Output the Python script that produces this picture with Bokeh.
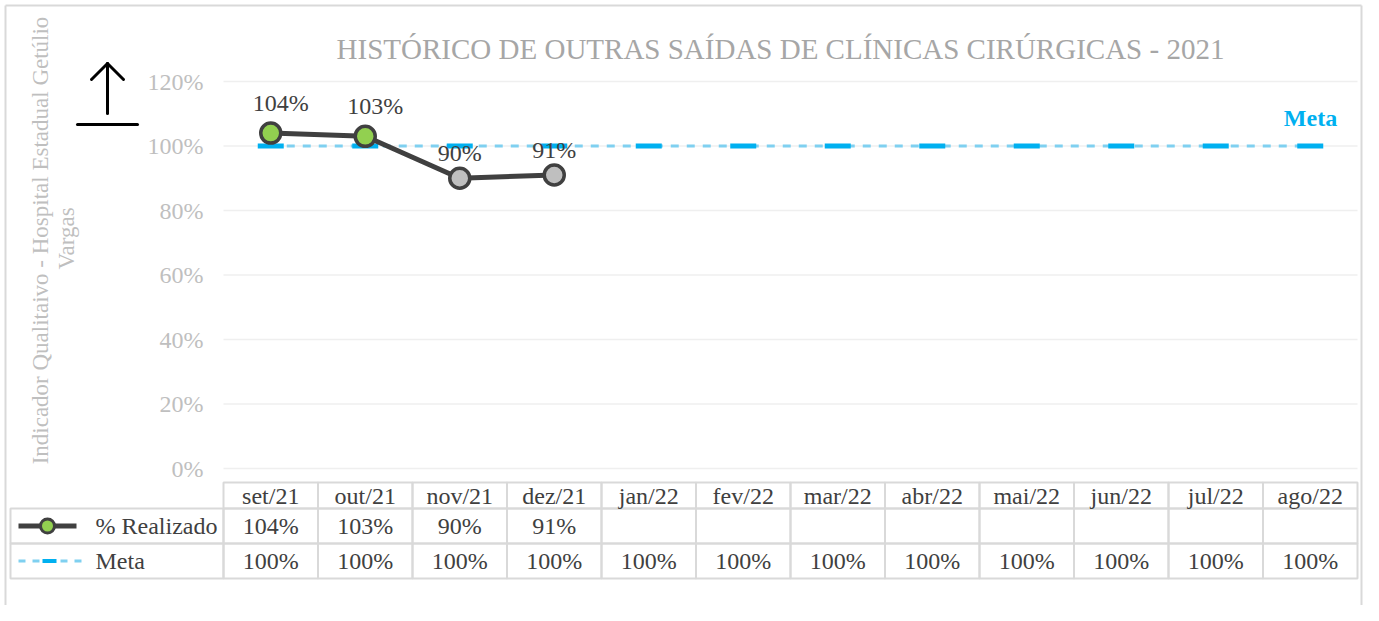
import math
from bokeh.plotting import figure
from bokeh.models import Range1d
from bokeh.core.properties import value
from bokeh.embed import file_html
from bokeh.resources import INLINE

# ---------------- data ----------------
months = ["set/21", "out/21", "nov/21", "dez/21", "jan/22", "fev/22",
          "mar/22", "abr/22", "mai/22", "jun/22", "jul/22", "ago/22"]
realizado = [104, 103, 90, 91]
meta = [100, 100, 100, 100, 100, 100, 100, 100, 100, 100, 100, 100]
yticks = [0, 20, 40, 60, 80, 100, 120]
series_names = ["% Realizado", "Meta"]
title_text = "HISTÓRICO DE OUTRAS SAÍDAS DE CLÍNICAS CIRÚRGICAS - 2021"
ylabel_lines = ["Indicador Qualitaivo - Hospital Estadual Getúlio", "Vargas"]

# ---------------- layout helpers ----------------
W, H = 1363, 605
COL = 94.5      # px per category column
PPU = 3.225     # px per percent
TX0 = 223       # px of table left edge (first month column)
Y0 = 468        # px of 0 %
FONT = value("Liberation Serif")
FS = "24px"


def X(px):
    return (px - TX0) / COL - 0.5


def Y(py):
    return (Y0 - py) / PPU


p = figure(width=W, height=H, x_range=Range1d(X(0), X(W)),
           y_range=Range1d(Y(H), Y(0)), output_backend="svg",
           toolbar_location=None, min_border=0)
p.axis.visible = False
p.grid.visible = False
p.outline_line_color = None
p.background_fill_color = "white"
p.border_fill_color = "white"

# chart border (left, top, right)
p.segment(x0=[X(5), X(5), X(W - 2)], x1=[X(5), X(W - 2), X(W - 2)],
          y0=[Y(5), Y(5), Y(5)], y1=[Y(H + 5), Y(5), Y(H + 5)],
          line_color="#D9D9D9", line_width=2)

n = len(months)
xs = list(range(n))
left_edge, right_edge = -0.5, n - 0.5

# gridlines
p.segment(x0=[left_edge] * len(yticks), x1=[right_edge] * len(yticks),
          y0=yticks, y1=yticks, line_color="#EFEFEF", line_width=1.5)
# y tick labels
p.text(x=[X(203)] * len(yticks), y=yticks, text=[f"{t}%" for t in yticks],
       text_align="right", text_baseline="middle", text_color="#BFBFBF",
       text_font=FONT, text_font_size=FS)

# meta line
p.line(x=xs, y=meta, line_color="#7FD0F0", line_width=3, line_dash="8 8")
p.rect(x=xs, y=meta, width=26, height=5, width_units="screen",
       height_units="screen", fill_color="#00B0F0", line_color=None)
p.text(x=[X(1310)], y=[Y(117)], text=[series_names[1]], text_align="center",
       text_baseline="middle", text_color="#00B0F0", text_font=FONT,
       text_font_size=FS, text_font_style="bold")

# realizado line
rx = xs[:len(realizado)]
p.line(x=rx, y=realizado, line_color="#404040", line_width=5)
mcolors = ["#92D050" if v >= m else "#BFBFBF" for v, m in zip(realizado, meta)]
p.scatter(x=rx, y=realizado, size=20, fill_color=mcolors,
          line_color="#404040", line_width=3.5)
lab_dx = [10 if v >= m else 0 for v, m in zip(realizado, meta)]
lab_dy = [-30 if v >= m else -25 for v, m in zip(realizado, meta)]
p.text(x=rx, y=realizado, text=[f"{v}%" for v in realizado],
       x_offset=lab_dx, y_offset=lab_dy, text_align="center",
       text_baseline="middle", text_color="#404040", text_font=FONT,
       text_font_size=FS)

# ---------------- data table ----------------
rows_top = [Y(482), Y(508), Y(543)]
rows_bot = [Y(508), Y(543), Y(578)]
grid_col = "#D9D9D9"
p.quad(left=[i - 0.5 for i in xs], right=[i + 0.5 for i in xs],
       top=[rows_top[0]] * n, bottom=[rows_bot[0]] * n,
       fill_color=None, line_color=grid_col, line_width=2)
for r in (1, 2):
    p.quad(left=[X(10)] + [i - 0.5 for i in xs],
           right=[left_edge] + [i + 0.5 for i in xs],
           top=[rows_top[r]] * (n + 1), bottom=[rows_bot[r]] * (n + 1),
           fill_color=None, line_color=grid_col, line_width=2)

mid = [(t + b) / 2 for t, b in zip(rows_top, rows_bot)]
p.text(x=xs, y=[mid[0]] * n, text=months, text_align="center",
       text_baseline="middle", text_color="#404040", text_font=FONT,
       text_font_size=FS)
p.text(x=rx, y=[mid[1]] * len(realizado), text=[f"{v}%" for v in realizado],
       text_align="center", text_baseline="middle", text_color="#404040",
       text_font=FONT, text_font_size=FS)
p.text(x=xs, y=[mid[2]] * n, text=[f"{v}%" for v in meta],
       text_align="center", text_baseline="middle", text_color="#404040",
       text_font=FONT, text_font_size=FS)

# legend keys
p.segment(x0=[X(18)], x1=[X(76)], y0=[mid[1]], y1=[mid[1]],
          line_color="#404040", line_width=5)
p.scatter(x=[X(47)], y=[mid[1]], size=14, fill_color="#92D050",
          line_color="#404040", line_width=3)
p.segment(x0=[X(18)], x1=[X(83)], y0=[mid[2]], y1=[mid[2]],
          line_color="#7FD0F0", line_width=3, line_dash="7 7")
p.rect(x=[X(49)], y=[mid[2]], width=14, height=4, width_units="screen",
       height_units="screen", fill_color="#00B0F0", line_color=None)
p.text(x=[X(95), X(95)], y=[mid[1], mid[2]], text=series_names,
       text_align="left", text_baseline="middle", text_color="#404040",
       text_font=FONT, text_font_size=FS)

# ---------------- title, axis title, arrow ----------------
p.text(x=[X(780)], y=[Y(48)], text=[title_text], text_align="center",
       text_baseline="middle", text_color="#A6A6A6", text_font=FONT,
       text_font_size="29px")
p.text(x=[X(40), X(66)], y=[Y(240), Y(238)], text=ylabel_lines,
       angle=math.pi / 2, text_align="center", text_baseline="middle",
       text_color="#BFBFBF", text_font=FONT, text_font_size="23px")

# "higher is better" arrow: shaft, head, base line
p.segment(x0=[X(107), X(107), X(107), X(77)],
          x1=[X(107), X(91), X(123), X(137)],
          y0=[Y(113), Y(63), Y(63), Y(124)],
          y1=[Y(63), Y(79), Y(79), Y(124)],
          line_color="black", line_width=3, line_cap="round")

open("out.html", "w").write(file_html(p, INLINE))
